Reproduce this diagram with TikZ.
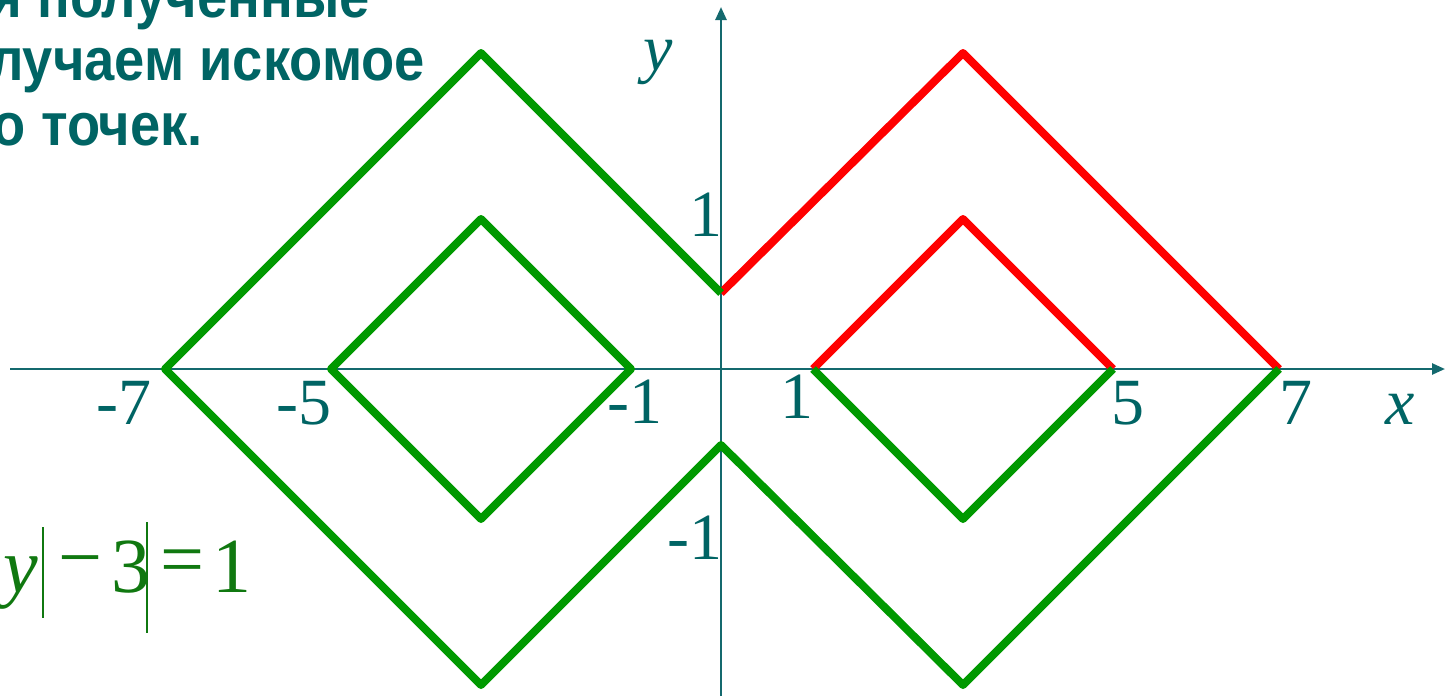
\documentclass[tikz,border=0pt]{standalone}
\usepackage{fontspec}
\setmainfont{Liberation Serif}
\newfontfamily\headfont[FakeStretch=0.905]{Liberation Sans}
\usetikzlibrary{arrows.meta}
\definecolor{tealc}{RGB}{0,100,100}
\definecolor{axisc}{RGB}{20,105,110}
\definecolor{plotgreen}{RGB}{0,153,0}
\definecolor{plotred}{RGB}{255,0,0}
\definecolor{eqgreen}{RGB}{16,120,16}
\tikzset{
  headtext/.style={inner sep=0pt, text=tealc, font=\headfont\bfseries\fontsize{60}{60}\selectfont, anchor=base east},
  ticklabel/.style={inner sep=0pt, text=tealc, font=\fontsize{66}{66}\selectfont},
  axislabel/.style={inner sep=0pt, text=tealc, font=\itshape\fontsize{66}{66}\selectfont},
  eqtext/.style={inner sep=0pt, text=eqgreen, font=\fontsize{78}{78}\selectfont},
  axisline/.style={draw=axisc, line width=2.5pt, -{Triangle[length=13pt,width=11pt]}},
  greenline/.style={draw=plotgreen, line width=8pt, line join=round},
  redline/.style={draw=plotred, line width=8pt, line join=round},
  eqbar/.style={draw=eqgreen, line width=2.5pt}
}
\begin{document}
\begin{tikzpicture}[x=1pt,y=-1pt]
\useasboundingbox (0,0) rectangle (1445,696);
% axes
\coordinate (xs) at (10,369);
\coordinate (xe) at (1445,369);
\coordinate (ys) at (721,696);
\coordinate (ye) at (721,7);
\draw[axisline] (xs) -- (xe);
\draw[axisline] (ys) -- (ye);
% vertices
\coordinate (Lo1) at (165,369);
\coordinate (Lo2) at (481,53);
\coordinate (Lo3) at (721,293);
\coordinate (Lo4) at (481,685);
\coordinate (Lo5) at (721,445);
\coordinate (Li1) at (331,369);
\coordinate (Li2) at (481,219);
\coordinate (Li3) at (631,369);
\coordinate (Li4) at (481,519);
\coordinate (Ro2) at (963,53);
\coordinate (Ro3) at (1279,369);
\coordinate (Ro4) at (963,685);
\coordinate (Ri1) at (813,369);
\coordinate (Ri2) at (963,219);
\coordinate (Ri3) at (1113,369);
\coordinate (Ri4) at (963,519);
% red parts
\draw[redline] (Lo3) -- (Ro2) -- (Ro3);
\draw[redline] (Ri1) -- (Ri2) -- (Ri3);
% green parts
\draw[greenline] (Lo3) -- (Lo2) -- (Lo1) -- (Lo4) -- (Lo5) -- (Ro4) -- (Ro3);
\draw[greenline] (Li1) -- (Li2) -- (Li3) -- (Li4) -- cycle;
\draw[greenline] (Ri1) -- (Ri4) -- (Ri3);
% tick labels
\node[ticklabel] (tm7) at (124,403) {-7};
\node[ticklabel] (tm5) at (304,403) {-5};
\node[ticklabel] (tm1) at (635,402) {-1};
\node[ticklabel] (tp1) at (797,397) {1};
\node[ticklabel] (tp5) at (1128,403) {5};
\node[ticklabel] (tp7) at (1296,403) {7};
\node[ticklabel] (ty1) at (706,215) {1};
\node[ticklabel] (tym1) at (695,538) {-1};
\node[axislabel] (xl) at (1400,409) {x};
\node[axislabel] (yl) at (658,62) {y};
% heading text (cut by the page edge, as in the reference)
\node[headtext] (h1) at (370,17) {Объединяя полученные};
\node[headtext] (h2) at (425,80) {получаем искомое};
\node[headtext] (h3) at (203,145) {множество точек.};
% equation
\node[eqtext, font=\itshape\fontsize{78}{78}\selectfont, anchor=base east] (eqy) at (38,592) {y};
\coordinate (b1t) at (43,527);
\coordinate (b1b) at (43,618);
\coordinate (b2t) at (147,522);
\coordinate (b2b) at (147,633);
\draw[eqbar] (b1t) -- (b1b);
\draw[eqbar] (b2t) -- (b2b);
\node[eqtext] (eqm) at (80,570) {−};
\node[eqtext, anchor=base west] (eq3) at (111,592) {3};
\node[eqtext] (eqe) at (182,568) {=};
\node[eqtext, anchor=base west] (eq1) at (212,592) {1};
\end{tikzpicture}
\end{document}
